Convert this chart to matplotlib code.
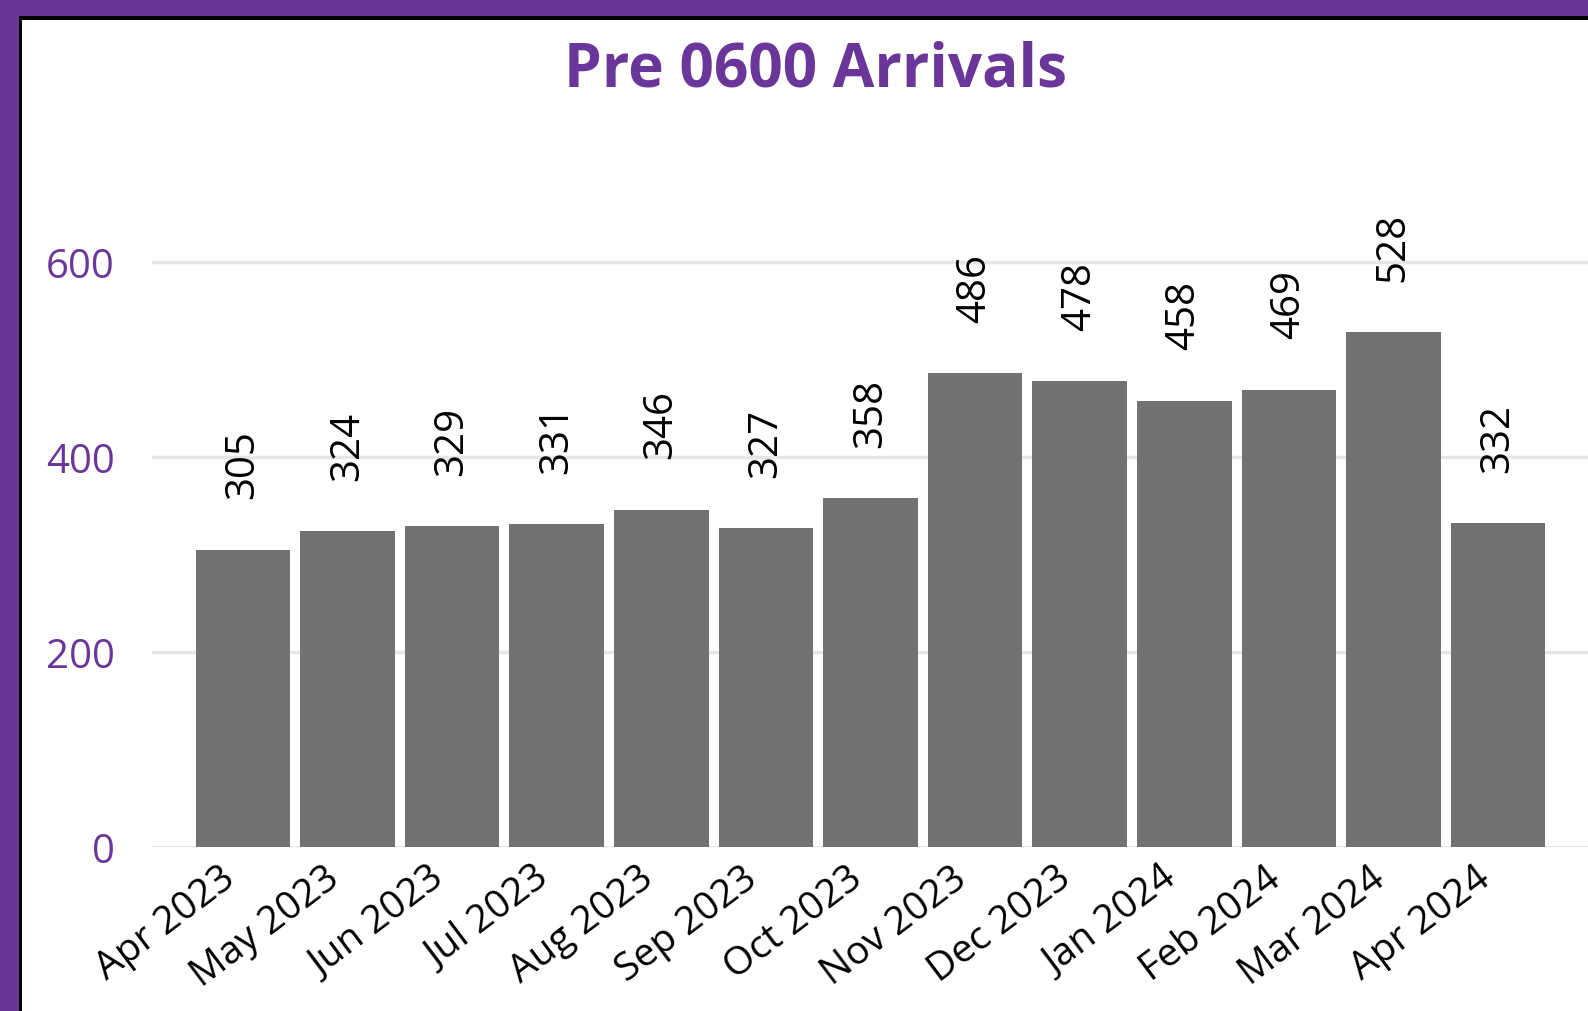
import matplotlib
matplotlib.use("Agg")
import matplotlib.pyplot as plt
from matplotlib.patches import Rectangle
from matplotlib.transforms import ScaledTranslation

months = ["Apr 2023", "May 2023", "Jun 2023", "Jul 2023", "Aug 2023", "Sep 2023",
          "Oct 2023", "Nov 2023", "Dec 2023", "Jan 2024", "Feb 2024", "Mar 2024", "Apr 2024"]
arrivals = [305, 324, 329, 331, 346, 327, 358, 486, 478, 458, 469, 528, 332]
yticks = [0, 200, 400, 600]

W, H = 1588, 1012
PURPLE = "#6A3699"
BAR = "#717274"

plt.rcParams['font.family'] = ['Open Sans', 'DejaVu Sans']
fig = plt.figure(figsize=(W / 100, H / 100), dpi=100)

def fx(px):
    return px / W

def fy(py):
    return 1 - py / H

# frame
fig.add_artist(Rectangle((0, 0), fx(19), 1, transform=fig.transFigure, color=PURPLE, lw=0, zorder=0))
fig.add_artist(Rectangle((0, fy(17)), 1, 17 / H, transform=fig.transFigure, color=PURPLE, lw=0, zorder=0))
fig.add_artist(Rectangle((fx(19), 0), 3 / W, fy(17), transform=fig.transFigure, color="black", lw=0, zorder=1))
fig.add_artist(Rectangle((fx(19), fy(21)), 1, 4 / H, transform=fig.transFigure, color="black", lw=0, zorder=1))

left, right = 152, 1588
top, bottom = 150, 848
ax = fig.add_axes([fx(left), fy(bottom), (right - left) / W, (bottom - top) / H])

x = list(range(len(months)))
ax.bar(x, arrivals, width=0.905, color=BAR, zorder=2)
ax.set_xlim(-0.87, 12.86)
ax.set_ylim(0, 716)
ax.set_yticks(yticks)
ax.yaxis.grid(True, color="#E6E6E6", lw=2.5, zorder=0)
ax.set_axisbelow(True)
for s in ax.spines.values():
    s.set_visible(False)
ax.tick_params(axis='both', length=0)
ax.tick_params(axis='y', labelsize=29, labelcolor=PURPLE, pad=27)
ax.set_xticks(x)
ax.set_xticklabels(months, rotation=37, ha='right', rotation_mode='anchor', fontsize=28)
ax.tick_params(axis='x', pad=4)
offset = ScaledTranslation(-24 / 100, -6 / 100, fig.dpi_scale_trans)
for lbl in ax.get_xticklabels():
    lbl.set_transform(lbl.get_transform() + offset)

for xi, v in zip(x, arrivals):
    ax.annotate(str(v), (xi, v), xytext=(0, 37), textcoords='offset points',
                rotation=90, ha='center', va='bottom', fontsize=29, color='black')

fig.text(fx(816), fy(71), "Pre 0600 Arrivals", ha='center', va='center',
         fontsize=43.5, fontweight='bold', color=PURPLE)

fig.savefig("out.png", dpi=100)
